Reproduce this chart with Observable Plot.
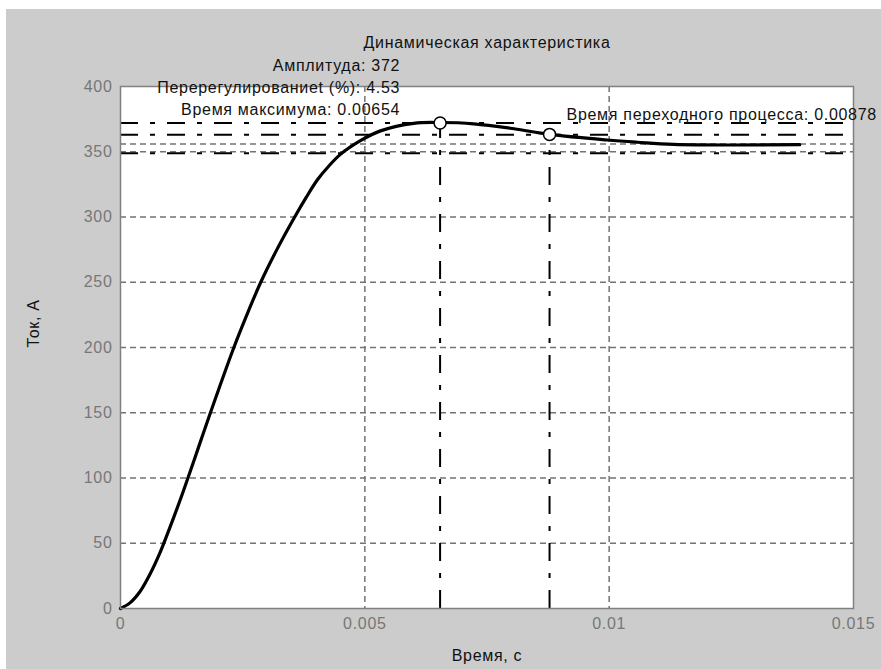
<!DOCTYPE html>
<html>
<head>
<meta charset="utf-8">
<script src="https://cdn.jsdelivr.net/npm/d3@7"></script>
<script src="https://cdn.jsdelivr.net/npm/@observablehq/plot@0.6"></script>
<style>
  html, body { margin: 0; padding: 0; background: #ffffff; width: 881px; height: 669px; overflow: hidden; }
  #panel { position: absolute; left: 6px; top: 9px; right: 0; bottom: 0; background: #cccccc; }
  #chart { position: absolute; left: 0; top: 0; }
  #chart svg text { letter-spacing: 0.7px; }
</style>
</head>
<body>
<div id="panel"></div>
<div id="chart"></div>
<script>
// Step response (time in s, current in A)
const time = [0, 0.0002, 0.0004, 0.0006, 0.0008, 0.001, 0.0012, 0.00138, 0.00161, 0.00184, 0.00201, 0.00232, 0.00263, 0.00287, 0.0032, 0.00355, 0.0038, 0.00403, 0.00425, 0.0045, 0.00491, 0.00532, 0.006, 0.00654, 0.00723, 0.00805, 0.00878, 0.00996, 0.01057, 0.01132, 0.0139];
const current = [0, 4.5, 13, 26, 42, 61, 81, 100, 125, 150, 168, 200, 229, 250, 275, 299, 315, 328.5, 338.5, 348, 358.5, 366, 371.8, 372.4, 371.4, 367.6, 363.3, 359, 357.3, 355.6, 355.4];

// Characteristic values
const peakTime = 0.00654;
const peakValue = 372;
const overshoot = 4.53;
const settleTime = 0.00878;
const settleValue = 363.3;
const steadyState = 355.9;
const bandUpper = 363.1;
const bandLower = 348.9;

// Axis ticks
const xTicks = [0, 0.005, 0.01, 0.015];
const yTicks = [0, 50, 100, 150, 200, 250, 300, 350, 400];
const xGrid = [0.005, 0.01];
const yGrid = [50, 100, 150, 200, 250, 300, 350];

// Texts
const titleText = "Динамическая характеристика";
const xLabel = "Время, с";
const yLabel = "Ток, А";

const curve = time.map((t, i) => ({t, v: current[i]}));
const dashDot = "18,12,5,12";
const font = "'Liberation Sans', Arial, sans-serif";
const fs = 16;

const chart = Plot.plot({
  width: 881,
  height: 669,
  marginLeft: 120,
  marginRight: 28,
  marginTop: 86,
  marginBottom: 61,
  style: {background: "transparent", fontFamily: font, fontSize: fs + "px"},
  x: {domain: [0, 0.015]},
  y: {domain: [0, 400]},
  marks: [
    Plot.frame({fill: "white", stroke: "none"}),
    Plot.ruleX(xGrid, {stroke: "#737373", strokeWidth: 1.5, strokeDasharray: "6,4"}),
    Plot.ruleY(yGrid, {stroke: "#737373", strokeWidth: 1.5, strokeDasharray: "6,4"}),
    Plot.ruleY([steadyState], {stroke: "#737373", strokeWidth: 1.5, strokeDasharray: "6,4"}),
    Plot.ruleY([peakValue, bandUpper, bandLower], {stroke: "black", strokeWidth: 2, strokeDasharray: dashDot}),
    Plot.ruleX([peakTime], {y1: 0, y2: peakValue, stroke: "black", strokeWidth: 2, strokeDasharray: dashDot}),
    Plot.ruleX([settleTime], {y1: 0, y2: settleValue, stroke: "black", strokeWidth: 2, strokeDasharray: dashDot}),
    Plot.line(curve, {x: "t", y: "v", stroke: "black", strokeWidth: 3.2, curve: "catmull-rom"}),
    Plot.dot([{t: peakTime, v: peakValue}, {t: settleTime, v: settleValue}], {x: "t", y: "v", r: 6, fill: "white", stroke: "black", strokeWidth: 1.5}),
    Plot.frame({stroke: "#808080", strokeWidth: 1.5}),
    Plot.axisX(xTicks, {tickSize: 0, tickPadding: 9, color: "#777777", fontSize: fs, tickFormat: d => String(d), label: null}),
    Plot.axisY(yTicks, {tickSize: 0, tickPadding: 8, color: "#777777", fontSize: fs, label: null}),
    // title and axis labels
    Plot.text([titleText], {frameAnchor: "top", dy: -44, lineAnchor: "middle", fill: "#111", fontSize: fs}),
    Plot.text([xLabel], {frameAnchor: "bottom", dy: 47, lineAnchor: "middle", fill: "#111", fontSize: fs}),
    Plot.text([yLabel], {frameAnchor: "left", dx: -87, rotate: -90, lineAnchor: "middle", fill: "#111", fontSize: fs}),
    // annotations
    Plot.text([{t: peakTime, v: peakValue, s: "Амплитуда: " + peakValue}], {x: "t", y: "v", text: "s", dx: -40, dy: -57, textAnchor: "end", lineAnchor: "middle", fill: "#111", fontSize: fs}),
    Plot.text([{t: peakTime, v: peakValue, s: "Перерегулированиеt (%): " + overshoot}], {x: "t", y: "v", text: "s", dx: -40, dy: -35, textAnchor: "end", lineAnchor: "middle", fill: "#111", fontSize: fs}),
    Plot.text([{t: peakTime, v: peakValue, s: "Время максимума: " + peakTime}], {x: "t", y: "v", text: "s", dx: -40, dy: -13, textAnchor: "end", lineAnchor: "middle", fill: "#111", fontSize: fs}),
    Plot.text([{t: settleTime, v: settleValue, s: "Время переходного процесса: " + settleTime}], {x: "t", y: "v", text: "s", dx: 17, dy: -20, textAnchor: "start", lineAnchor: "middle", fill: "#111", fontSize: fs})
  ]
});
document.getElementById("chart").appendChild(chart);
</script>
</body>
</html>
